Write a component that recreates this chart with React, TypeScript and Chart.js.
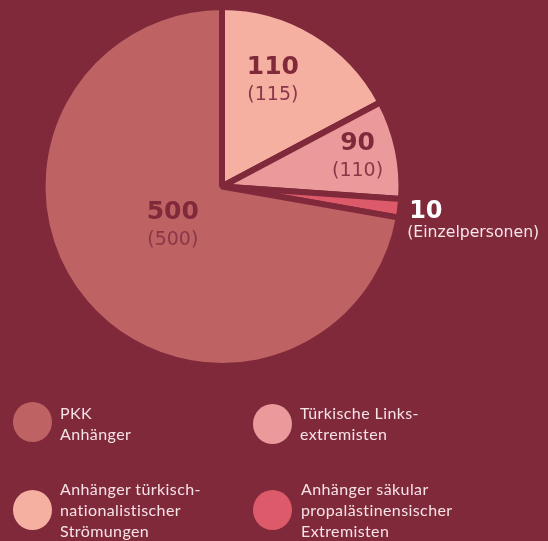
import React, { useEffect, useRef } from "react";
import { Chart, registerables } from "chart.js";

Chart.register(...registerables);

// Slice order: clockwise from 12 o'clock
const categories = [
  "Anhänger türkisch-nationalistischer Strömungen",
  "Türkische Linksextremisten",
  "Anhänger säkular propalästinensischer Extremisten",
  "PKK Anhänger",
];
const counts = ["110", "90", "10", "500"];
const previousCounts = ["(115)", "(110)", "(Einzelpersonen)", "(500)"];
// arc sizes as drawn in the picture (degrees of the circle)
const sliceSizes = [62, 32, 6, 260];
const sliceColors = ["#F5B0A2", "#EA9A9B", "#DC5A69", "#BE6264"];

const legendLines = [
  ["PKK", "Anhänger"],
  ["Türkische Links-", "extremisten"],
  ["Anhänger türkisch-", "nationalistischer", "Strömungen"],
  ["Anhänger säkular", "propalästinensischer", "Extremisten"],
];
const legendColors = ["#BE6264", "#EA9A9B", "#F5B0A2", "#DC5A69"];

const BG = "#80293B";
const DARK = "#80293B";
const PAREN = "#8A3747";

// label placement: fraction across slice, fraction of radius
const labelPlacement = [
  { t: 0.41, f: 0.66 },
  { t: 0.47, f: 0.775 },
  { t: 0.5, f: 1.0 },
  { t: 0.51, f: 0.345 },
];

const labelPlugin = {
  id: "sliceLabels",
  afterDatasetsDraw(chart: any) {
    const ctx = chart.ctx;
    const meta = chart.getDatasetMeta(0);
    meta.data.forEach((arc: any, i: number) => {
      const p = arc.getProps(["x", "y", "startAngle", "endAngle", "outerRadius"], true);
      const ang = p.startAngle + (p.endAngle - p.startAngle) * labelPlacement[i].t;
      const r = p.outerRadius * labelPlacement[i].f;
      const px = p.x + Math.cos(ang) * r;
      const py = p.y + Math.sin(ang) * r;
      ctx.save();
      ctx.textBaseline = "middle";
      if (i === 2) {
        ctx.textAlign = "left";
        ctx.fillStyle = "#FFFFFF";
        ctx.font = "bold 24px 'DejaVu Sans'";
        ctx.fillText(counts[i], px + 9, py + 3);
        ctx.font = "15.7px 'DejaVu Sans'";
        ctx.fillStyle = "#F6E6E9";
        ctx.fillText(previousCounts[i], px + 7, py + 25);
      } else {
        ctx.textAlign = "center";
        ctx.fillStyle = DARK;
        ctx.font = "bold 25px 'DejaVu Sans'";
        ctx.fillText(counts[i], px, py - 12);
        ctx.fillStyle = PAREN;
        ctx.font = "19px 'DejaVu Sans'";
        ctx.fillText(previousCounts[i], px, py + 15.5);
      }
      ctx.restore();
    });
  },
};

export default function App() {
  const ref = useRef<HTMLCanvasElement | null>(null);

  useEffect(() => {
    if (!ref.current) return;
    const chart = new Chart(ref.current, {
      type: "pie",
      data: {
        labels: categories,
        datasets: [
          {
            data: sliceSizes,
            backgroundColor: sliceColors,
            borderColor: BG,
            borderWidth: 6,
            hoverOffset: 0,
          },
        ],
      },
      options: {
        responsive: false,
        animation: false,
        radius: 179.5,
        layout: { padding: { left: 0, top: 0, right: 104, bottom: 168 } },
        plugins: {
          legend: { display: false },
          tooltip: { enabled: false },
          title: { display: false },
        },
        events: [],
      } as any,
      plugins: [labelPlugin],
    });
    return () => chart.destroy();
  }, []);

  const legendPos = [
    { cx: 32, cy: 422, tx: 60, ty: 401.5 },
    { cx: 272, cy: 424, tx: 300, ty: 401.5 },
    { cx: 32, cy: 510, tx: 60, ty: 477.5 },
    { cx: 272, cy: 510, tx: 301, ty: 477.5 },
  ];

  return (
    <div
      style={{
        position: "fixed",
        left: 0,
        top: 0,
        width: 548,
        height: 541,
        background: BG,
        overflow: "hidden",
      }}
    >
      <canvas
        ref={ref}
        width={548}
        height={541}
        style={{ position: "absolute", left: 0, top: 0, width: 548, height: 541 }}
      />
      {legendLines.map((lines, i) => (
        <React.Fragment key={i}>
          <div
            style={{
              position: "absolute",
              left: legendPos[i].cx - 19.5,
              top: legendPos[i].cy - 20,
              width: 39,
              height: 40,
              borderRadius: "50%",
              background: legendColors[i],
            }}
          />
          <div
            style={{
              position: "absolute",
              left: legendPos[i].tx,
              top: legendPos[i].ty,
              fontFamily: "Lato, sans-serif",
              fontSize: 16,
              lineHeight: "21px",
              color: "#F5E3E6",
              whiteSpace: "nowrap",
              letterSpacing: 0.4,
            }}
          >
            {lines.map((l, j) => (
              <div key={j}>{l}</div>
            ))}
          </div>
        </React.Fragment>
      ))}
    </div>
  );
}
